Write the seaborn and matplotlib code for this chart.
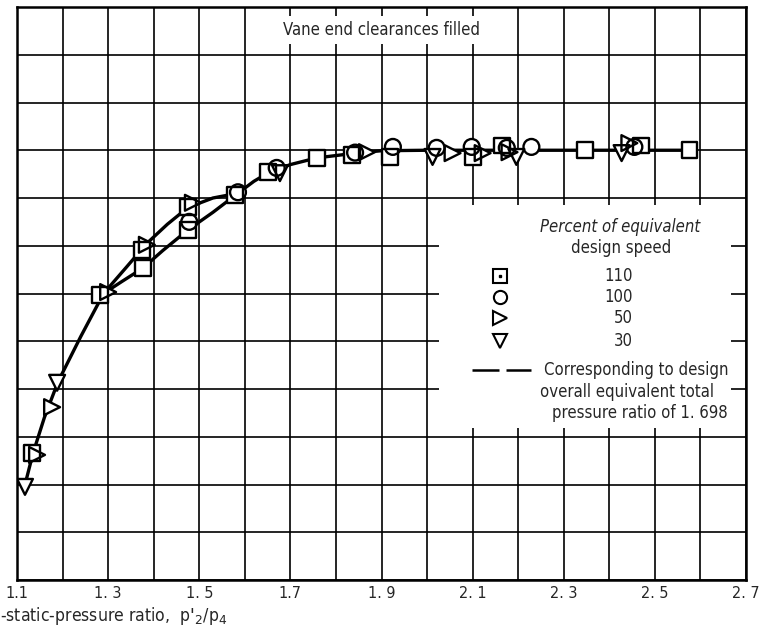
import os
import matplotlib
matplotlib.use("Agg")
import matplotlib.pyplot as plt
from matplotlib import font_manager
from matplotlib.font_manager import FontProperties
from matplotlib.patches import Rectangle
import pandas as pd
import seaborn as sns

# Speed series (percent of equivalent design speed) and their symbols
speeds = ["110", "100", "50", "30"]
marker_map = {"110": "s", "100": "o", "50": ">", "30": "v"}

# Data points, static-pressure ratio vs. ordinate value (grid units)
sq_x = [1.133, 1.282, 1.374, 1.376, 1.475, 1.475, 1.578, 1.650, 1.758, 1.835,
        1.918, 2.100, 2.164, 2.346, 2.470, 2.576]
sq_y = [2.66, 5.97, 6.91, 6.53, 7.81, 7.33, 8.06, 8.54, 8.84, 8.90,
        8.86, 8.86, 9.10, 9.00, 9.10, 9.00]
ci_x = [1.478, 1.585, 1.670, 1.842, 1.925, 2.021, 2.098, 2.175, 2.229, 2.455]
ci_y = [7.50, 8.12, 8.63, 8.95, 9.07, 9.05, 9.07, 9.05, 9.07, 9.07]
tr_x = [1.144, 1.177, 1.300, 1.385, 1.486, 1.868, 2.056, 2.122, 2.181, 2.444]
tr_y = [2.62, 3.62, 6.03, 7.02, 7.90, 8.96, 8.94, 8.94, 8.96, 9.15]
td_x = [1.1175, 1.188, 1.677, 2.012, 2.196, 2.427]
td_y = [1.95, 4.13, 8.52, 8.86, 8.86, 8.94]

# Faired curves
upper_x = [1.115, 1.135, 1.160, 1.190, 1.240, 1.290, 1.340, 1.385, 1.430, 1.475, 1.530, 1.585]
upper_y = [1.90, 2.65, 3.40, 4.15, 5.10, 6.00, 6.55, 7.05, 7.45, 7.80, 8.00, 8.10]
lower_x = [1.290, 1.330, 1.376, 1.420, 1.475, 1.530, 1.585]
lower_y = [6.00, 6.25, 6.53, 6.90, 7.33, 7.70, 8.10]
common_x = [1.585, 1.620, 1.650, 1.700, 1.758, 1.835, 1.900, 2.000, 2.590]
common_y = [8.10, 8.35, 8.52, 8.70, 8.84, 8.93, 8.99, 9.00, 9.00]

tick_vals = [1.1, 1.3, 1.5, 1.7, 1.9, 2.1, 2.3, 2.5, 2.7]
tick_labels = ["1.1", "1. 3", "1. 5", "1.7", "1. 9", "2. 1", "2. 3", "2. 5", "2. 7"]

sns.set_theme(style="white")
plt.rcParams["font.family"] = ["Roboto", "DejaVu Sans"]


def find_font(keys, italic=False):
    """Return a narrow/condensed font file if one is installed."""
    files = sorted({f.fname for f in font_manager.fontManager.ttflist})
    for key in keys:
        for fn in files:
            base = os.path.basename(fn).lower()
            if key.lower() not in base or "bold" in base:
                continue
            is_it = ("italic" in base) or ("oblique" in base)
            if is_it == italic:
                return fn
    return None


narrow_keys = ["LiberationSansNarrow", "DejaVuSansCondensed", "RobotoCondensed",
               "Roboto", "LiberationSans-"]
reg_file = find_font(narrow_keys)
ital_file = find_font(narrow_keys, italic=True)
fp_reg = FontProperties(fname=reg_file) if reg_file else FontProperties(family="DejaVu Sans")
fp_ital = (FontProperties(fname=ital_file) if ital_file
           else FontProperties(family=fp_reg.get_family(), style="italic"))

fig = plt.figure(figsize=(7.69, 6.30), dpi=100)
ax = fig.add_axes([17 / 769, 1 - 580 / 630, 729 / 769, 573 / 630])

# Size the lettering so the heading spans about its width on the sheet
probe = fig.text(0, 0, "Vane end clearances filled", fontproperties=fp_reg, fontsize=12)
fig.canvas.draw()
w = probe.get_window_extent().width
probe.remove()
fs = 12 * 196.0 / w


def txt(x, y, s, italic=False, size=1.0, **kw):
    fp = (fp_ital if italic else fp_reg).copy()
    fp.set_size(fs * size)
    return ax.text(x, y, s, fontproperties=fp, **kw)


pts = pd.DataFrame({
    "ratio": sq_x + ci_x + tr_x + td_x,
    "value": sq_y + ci_y + tr_y + td_y,
    "speed": (["110"] * len(sq_x) + ["100"] * len(ci_x)
              + ["50"] * len(tr_x) + ["30"] * len(td_x)),
})

# Curves
for cx, cy in [(upper_x, upper_y), (lower_x, lower_y), (common_x, common_y)]:
    sns.lineplot(x=cx, y=cy, sort=False, estimator=None, color="black",
                 linewidth=2.4, ax=ax, zorder=2)

# White fill under the symbols, then the open outlines on top
sns.scatterplot(data=pts, x="ratio", y="value", style="speed", markers=marker_map,
                style_order=speeds, s=130, color="white", linewidth=0,
                legend=False, ax=ax, zorder=3)
sns.scatterplot(data=pts, x="ratio", y="value", style="speed", markers=marker_map,
                style_order=speeds, s=130, color="black", linewidth=1.7,
                legend=False, ax=ax, zorder=4)
ax.collections[-1].set_facecolor("none")
ax.collections[-1].set_edgecolor("black")

# Axes and grid
ax.set_xlim(1.1, 2.7)
ax.set_ylim(0, 12)
ax.set_xticks([1.1 + 0.1 * i for i in range(17)])
ax.set_xticklabels([""] * 17)
ax.set_yticks(range(13))
ax.set_yticklabels([])
ax.grid(True, color="black", linewidth=1.2)
ax.set_axisbelow(True)
ax.tick_params(axis="both", length=0)
for sp in ax.spines.values():
    sp.set_color("black")
    sp.set_linewidth(1.8)
ax.set_xlabel("")
ax.set_ylabel("")
for tv, tl in zip(tick_vals, tick_labels):
    txt(tv, -0.12, tl, size=0.97, ha="center", va="top", clip_on=False)

fpl = fp_reg.copy()
fpl.set_size(fs * 1.06)
fig.text(0.0, 1 - 616 / 630, "-static-pressure ratio,  p$'_2$/p$_4$",
         ha="left", va="center", fontproperties=fpl)

# Title
txt(1.9, 11.52, "Vane end clearances filled", ha="center", va="center", zorder=5,
    bbox=dict(facecolor="white", edgecolor="none", pad=3.5))

# Legend panel
ax.add_patch(Rectangle((2.027, 3.19), 2.668 - 2.027, 7.85 - 3.19,
                       facecolor="white", edgecolor="none", zorder=1.5))
txt(2.424, 7.39, "Percent of equivalent", italic=True, ha="center", va="center", zorder=5)
txt(2.425, 6.95, "design speed", ha="center", va="center", zorder=5)
leg_y = [6.37, 5.93, 5.49, 5.00]
for sp_, yy in zip(speeds, leg_y):
    ax.plot([2.159], [yy], marker=marker_map[sp_], markersize=9.5, markerfacecolor="none",
            markeredgecolor="black", markeredgewidth=1.5, linestyle="none", zorder=5)
    txt(2.452, yy, sp_, ha="right", va="center", zorder=5)
ax.plot([2.159], [leg_y[0]], marker="s", markersize=1.6, color="black", zorder=6)
ax.plot([2.098, 2.229], [4.40, 4.40], color="black", linewidth=1.8,
        dashes=(10.8, 2.8), zorder=5)
txt(2.256, 4.40, "Corresponding to design", ha="left", va="center", zorder=5)
txt(2.438, 3.94, "overall equivalent total", ha="center", va="center", zorder=5)
txt(2.466, 3.50, "pressure ratio of 1. 698", ha="center", va="center", zorder=5)

fig.savefig("out.png", dpi=100, facecolor="white")
